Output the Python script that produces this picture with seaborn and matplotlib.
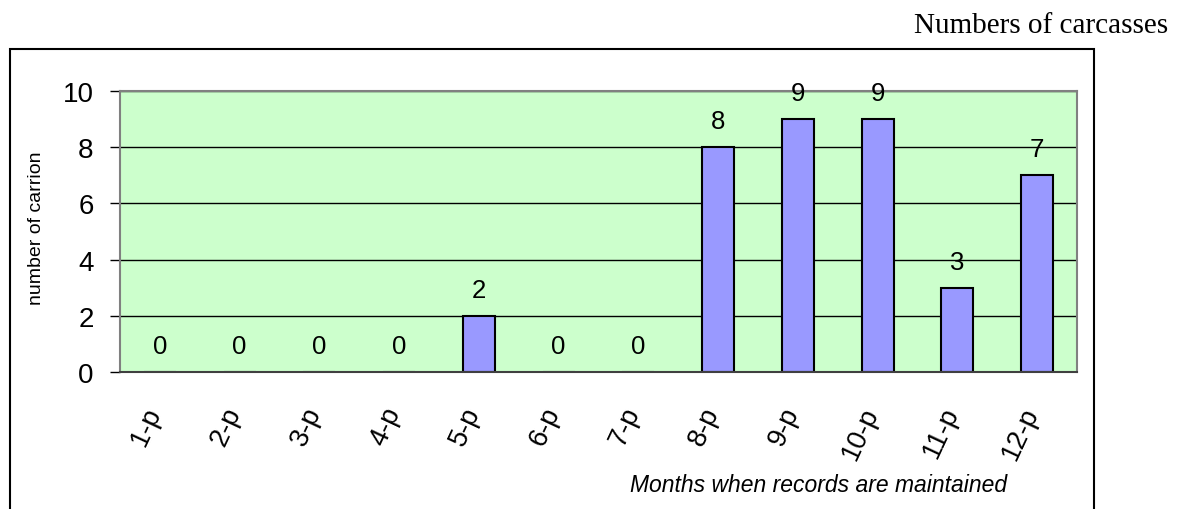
import matplotlib
matplotlib.use("Agg")
import matplotlib.pyplot as plt
from matplotlib.patches import Rectangle
from matplotlib.transforms import ScaledTranslation
import seaborn as sns
import pandas as pd

# Monthly carcass counts
months = ["1-p", "2-p", "3-p", "4-p", "5-p", "6-p", "7-p", "8-p", "9-p", "10-p", "11-p", "12-p"]
counts = [0, 0, 0, 0, 2, 0, 0, 8, 9, 9, 3, 7]
y_ticks = [0, 2, 4, 6, 8, 10]

sns.set_style("white")
plt.rcParams["font.family"] = ["Liberation Sans", "DejaVu Sans"]
plt.rcParams["text.color"] = "black"
plt.rcParams["xtick.color"] = "black"
plt.rcParams["ytick.color"] = "black"

W, H = 1182, 510
fig = plt.figure(figsize=(W / 100, H / 100), dpi=100)

# Outer chart frame
fig.add_artist(Rectangle((10 / W, -0.05), (1094 - 10) / W, 1 - 50 / H + 0.05,
                         transform=fig.transFigure, fill=False,
                         edgecolor="black", linewidth=1.5))

left, right, top, bottom = 120, 1077, 92, 373
ax = fig.add_axes([left / W, 1 - bottom / H, (right - left) / W, (bottom - top) / H])
ax.set_facecolor("#CCFFCC")

df = pd.DataFrame({"month": months, "count": counts})
sns.barplot(data=df, x="month", y="count", color="#9999FF", saturation=1,
            edgecolor="black", linewidth=1.5, width=0.4, ax=ax)

ax.bar_label(ax.containers[0], labels=[str(v) for v in counts],
             padding=10, fontsize=18.5, color="black")

ax.set_xlim(-0.5, len(months) - 0.5)
ax.set_ylim(0, 10)
ax.set_yticks(y_ticks)
ax.set_yticklabels([str(t) for t in y_ticks])
ax.yaxis.grid(True, color="black", linewidth=1)
ax.xaxis.grid(False)
ax.set_axisbelow(True)

for side in ["top", "right", "left"]:
    ax.spines[side].set_color("#808080")
    ax.spines[side].set_linewidth(1.5)
ax.spines["bottom"].set_color("#404040")
ax.spines["bottom"].set_linewidth(1.5)

ax.set_xlabel("")
ax.set_ylabel("")

# Category separators as ticks, labels centred on categories
ax.set_xticks([i - 0.5 for i in range(len(months) + 1)], minor=True)
ax.tick_params(axis="x", which="minor", length=7, width=1, color="black", direction="out")
ax.tick_params(axis="x", which="major", length=0, pad=26, labelsize=19.5)
ax.tick_params(axis="y", length=7, width=1, color="black", direction="out",
               pad=12, labelsize=20, left=True)
shift = ScaledTranslation(-5 / 100, 0, fig.dpi_scale_trans)
for lab in ax.get_xticklabels():
    lab.set_rotation(65)
    lab.set_rotation_mode("anchor")
    lab.set_ha("right")
    lab.set_va("center")
    lab.set_transform(lab.get_transform() + shift)

fig.text(37 / W, 1 - 228 / H, "number of carrion", rotation=90,
         ha="center", va="center", fontsize=14)
fig.text(1007 / W, 1 - 492 / H, "Months when records are maintained",
         ha="right", va="baseline", style="italic", fontsize=16.5)
fig.text(1168 / W, 1 - 33 / H, "Numbers of carcasses", ha="right", va="baseline",
         family="Liberation Serif", fontsize=21)

fig.savefig("out.png", dpi=100)
